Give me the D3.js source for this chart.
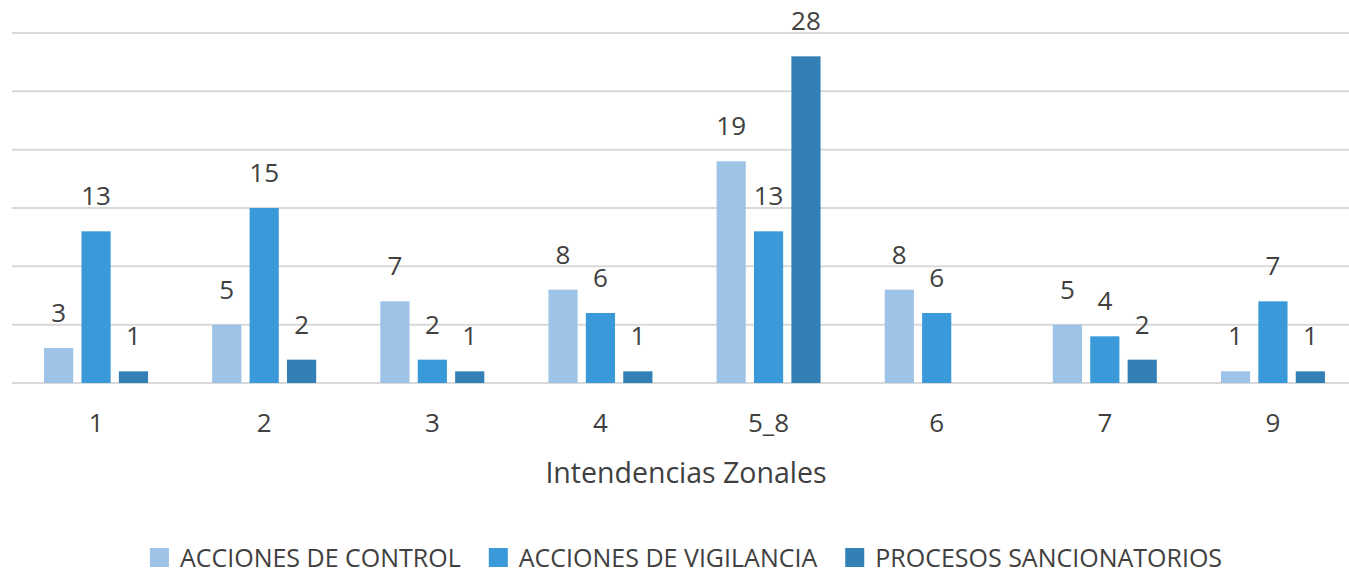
<!DOCTYPE html>
<html>
<head>
<meta charset="utf-8">
<script src="https://cdn.jsdelivr.net/npm/d3@7"></script>
<style>
  body { margin: 0; background: #fff; }
  text { font-family: "Open Sans", Lato, sans-serif; fill: #404040; }
</style>
</head>
<body>
<div id="chart"></div>
<script>
// data
const categories = ["1", "2", "3", "4", "5_8", "6", "7", "9"];
const seriesNames = ["ACCIONES DE CONTROL", "ACCIONES DE VIGILANCIA", "PROCESOS SANCIONATORIOS"];
const control = [3, 5, 7, 8, 19, 8, 5, 1];
const vigilancia = [13, 15, 2, 6, 13, 6, 4, 7];
const sancionatorios = [1, 2, 1, 1, 28, null, 2, 1];
const yTicks = [0, 5, 10, 15, 20, 25, 30];

const colors = ["#9DC3E6", "#3A99D8", "#3380B7"];
const w = 1349, h = 574;
const baseY = 383, topY = 33;

const svg = d3.select("#chart").append("svg")
  .attr("width", w)
  .attr("height", h);

const xScale = d3.scaleBand()
  .domain(categories)
  .range([12, 1357])
  .padding(0);

const groupW = 104;
const xInner = d3.scaleBand()
  .domain(seriesNames)
  .range([0, groupW])
  .paddingInner(0.22);

const yScale = d3.scaleLinear()
  .domain([0, 30])
  .range([baseY, topY]);

// gridlines
svg.append("g")
  .selectAll("line")
  .data(yTicks)
  .enter()
  .append("line")
  .attr("x1", 12)
  .attr("x2", w)
  .attr("y1", d => yScale(d))
  .attr("y2", d => yScale(d))
  .attr("stroke", "#D9D9D9")
  .attr("stroke-width", 2);

const rows = [];
categories.forEach((c, i) => {
  [control, vigilancia, sancionatorios].forEach((arr, s) => {
    if (arr[i] != null) rows.push({cat: c, s: s, v: arr[i]});
  });
});

const barX = d => xScale(d.cat) + (xScale.bandwidth() - groupW) / 2 + xInner(seriesNames[d.s]);

svg.append("g")
  .selectAll("rect")
  .data(rows)
  .enter()
  .append("rect")
  .attr("x", barX)
  .attr("y", d => yScale(d.v))
  .attr("width", xInner.bandwidth())
  .attr("height", d => baseY - yScale(d.v))
  .attr("fill", d => colors[d.s]);

// value labels
svg.append("g")
  .selectAll("text")
  .data(rows)
  .enter()
  .append("text")
  .attr("x", d => barX(d) + xInner.bandwidth() / 2)
  .attr("y", d => yScale(d.v) - 26)
  .style("text-anchor", "middle")
  .style("font-size", "26px")
  .text(d => d.v);

// x axis labels
const xAxis = d3.axisBottom(xScale).tickSize(0).tickPadding(0);
const gx = svg.append("g")
  .attr("transform", "translate(0," + 432 + ")")
  .call(xAxis);
gx.select(".domain").remove();
gx.selectAll("text")
  .attr("y", 0)
  .attr("dy", 0)
  .style("font-size", "26px")
  .style("font-family", "'Open Sans', Lato, sans-serif")
  .attr("fill", "#404040");

// axis title
svg.append("text")
  .attr("x", 686)
  .attr("y", 483)
  .style("text-anchor", "middle")
  .style("font-size", "28.5px")
  .text("Intendencias Zonales");

// legend
const legend = svg.append("g").attr("transform", "translate(0,567)");
const items = legend.selectAll("g")
  .data(seriesNames)
  .enter()
  .append("g");
items.append("rect")
  .attr("y", -19)
  .attr("width", 19)
  .attr("height", 19)
  .attr("fill", (d, i) => colors[i]);
items.append("text")
  .attr("x", 30)
  .attr("y", 0)
  .style("font-size", "25px")
  .text(d => d);

const widths = [];
items.each(function() {
  widths.push(this.querySelector("text").getComputedTextLength() + 30);
});
const gap = 28;
const total = d3.sum(widths) + gap * (widths.length - 1);
let xPos = 686 - total / 2;
items.attr("transform", (d, i) => {
  const t = "translate(" + xPos + ",0)";
  xPos += widths[i] + gap;
  return t;
});
</script>
</body>
</html>
